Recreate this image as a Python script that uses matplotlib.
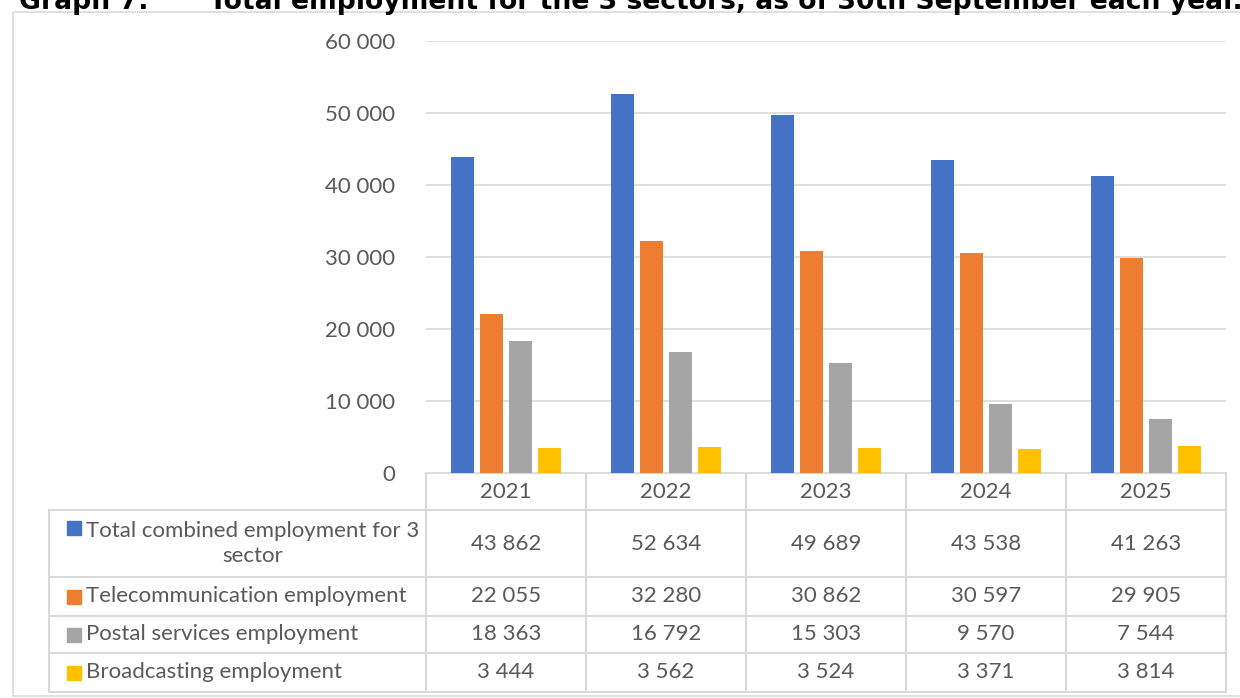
import matplotlib.pyplot as plt
from matplotlib.patches import Rectangle
import numpy as np

years = ["2021", "2022", "2023", "2024", "2025"]
series = [
    "Total combined employment for 3\nsector",
    "Telecommunication employment",
    "Postal services employment",
    "Broadcasting employment",
]
total = [43862, 52634, 49689, 43538, 41263]
telecom = [22055, 32280, 30862, 30597, 29905]
postal = [18363, 16792, 15303, 9570, 7544]
broadcast = [3444, 3562, 3524, 3371, 3814]
colors = ["#4472c4", "#ed7d31", "#a5a5a5", "#ffc000"]
yticks = [0, 10000, 20000, 30000, 40000, 50000, 60000]

W, H = 1240, 698
TXT = "#595959"
GRID = "#d9d9d9"
FONT = "Lato"
FS = 16


def fmt(v):
    return f"{v:,}".replace(",", " ")


def box(x0, y0, x1, y1):
    # pixel box (top-left origin) -> figure fraction rect
    return [x0 / W, 1 - y1 / H, (x1 - x0) / W, (y1 - y0) / H]


fig = plt.figure(figsize=(W / 100, H / 100), dpi=100)

# overlay in pixel coordinates for frame, title and table
ov = fig.add_axes([0, 0, 1, 1])
ov.set_xlim(0, W)
ov.set_ylim(H, 0)
ov.axis("off")

ov.add_patch(Rectangle((13, 12), W, 684, fill=False, ec="#d9d9d9", lw=1.2))
ov.text(19, 9, "Graph 7:", fontsize=19.2, fontweight="bold",
        family="DejaVu Sans", color="black", va="baseline", ha="left")
ov.text(209, 9, "Total employment for the 3 sectors, as of 30th September each year.",
        fontsize=19.2, fontweight="bold", family="DejaVu Sans",
        color="black", va="baseline", ha="left")

# bar chart
left, right, top, bottom = 426, 1226, 41, 473
ax = fig.add_axes(box(left, top, right, bottom))
data = [total, telecom, postal, broadcast]
x = np.arange(len(years))
step, width = 0.181, 0.144
for i, (vals, c) in enumerate(zip(data, colors)):
    ax.bar(x + (i - 1.5) * step, vals, width, color=c, zorder=3)
ax.set_xlim(-0.5, len(years) - 0.5)
ax.set_ylim(0, 60000)
ax.set_yticks(yticks)
ax.set_yticklabels([fmt(t) for t in yticks], fontsize=FS, family=FONT, color=TXT)
ax.tick_params(axis="y", length=0, pad=22)
ax.set_xticks([])
ax.grid(axis="y", color=GRID, lw=1.2, zorder=0)
for s in ax.spines.values():
    s.set_visible(False)

# data table
col_x = np.linspace(left, right, len(years) + 1)
row_y = [473, 510, 577, 616, 653, 692]
tab_left = 49
lw = 1.5
ov.plot([left, right], [row_y[0], row_y[0]], color=GRID, lw=lw)
for y in row_y[1:]:
    ov.plot([tab_left, right], [y, y], color=GRID, lw=lw)
for cx in col_x:
    ov.plot([cx, cx], [row_y[0], row_y[-1]], color=GRID, lw=lw)
ov.plot([tab_left, tab_left], [row_y[1], row_y[-1]], color=GRID, lw=lw)

for j, yr in enumerate(years):
    cx = (col_x[j] + col_x[j + 1]) / 2
    ov.text(cx, (row_y[0] + row_y[1]) / 2, yr, ha="center", va="center",
            fontsize=FS, family=FONT, color=TXT)

for i, (name, vals, c) in enumerate(zip(series, data, colors)):
    yc = (row_y[i + 1] + row_y[i + 2]) / 2
    if "\n" in name:
        ov.add_patch(Rectangle((67, 521), 14, 14, color=c))
        ov.text(86, yc, name, ha="left", va="center", multialignment="center",
                fontsize=FS, family=FONT, color=TXT, linespacing=1.35)
    else:
        ov.add_patch(Rectangle((67, yc - 7), 14, 14, color=c))
        ov.text(86, yc, name, ha="left", va="center",
                fontsize=FS, family=FONT, color=TXT)
    for j, v in enumerate(vals):
        cx = (col_x[j] + col_x[j + 1]) / 2
        ov.text(cx, yc, fmt(v), ha="center", va="center",
                fontsize=FS, family=FONT, color=TXT)

fig.savefig("out.png", dpi=100)
